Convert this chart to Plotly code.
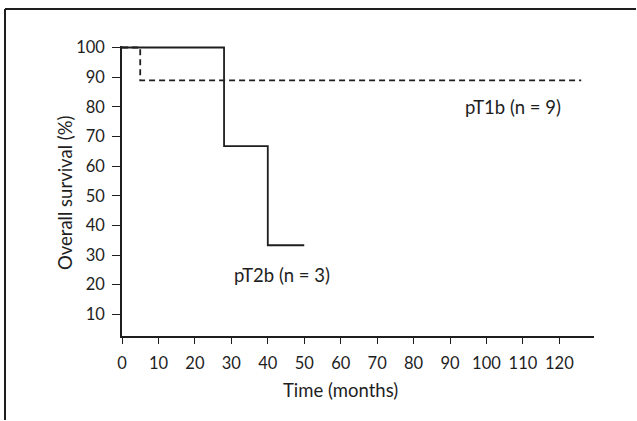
import plotly.graph_objects as go

# Kaplan-Meier step data (time in months, survival %)
pt1b_time = [0, 5, 5, 126]
pt1b_surv = [100, 100, 88.9, 88.9]
pt2b_time = [0, 28, 28, 40, 40, 50]
pt2b_surv = [100, 100, 66.7, 66.7, 33.3, 33.3]

x_ticks = [0, 10, 20, 30, 40, 50, 60, 70, 80, 90, 100, 110, 120]
y_ticks = [10, 20, 30, 40, 50, 60, 70, 80, 90, 100]

W, H = 637, 421
ML, MR, MT, MB = 122, 43, 46, 85
PW, PH = W - ML - MR, H - MT - MB

FONT = "Lato"
FS_TICK = 16.5
FS_TEXT = 18.5
INK = "#1e1e1e"


def px2paper_x(p):
    return (p - ML) / PW


def px2paper_y(p):
    return (H - MB - p) / PH


fig = go.Figure()
fig.add_trace(go.Scatter(x=pt1b_time, y=pt1b_surv, mode="lines",
                         line=dict(color=INK, width=1.8, dash="6px,4px"),
                         showlegend=False, hoverinfo="skip"))
fig.add_trace(go.Scatter(x=pt2b_time, y=pt2b_surv, mode="lines",
                         line=dict(color=INK, width=1.8),
                         showlegend=False, hoverinfo="skip"))

fig.add_annotation(x=107.3, y=79.9, text="pT1b (n = 9)", showarrow=False,
                   xanchor="center", yanchor="middle",
                   font=dict(family=FONT, size=FS_TEXT, color=INK))
fig.add_annotation(x=43.8, y=23.2, text="pT2b (n = 3)", showarrow=False,
                   xanchor="center", yanchor="middle",
                   font=dict(family=FONT, size=FS_TEXT, color=INK))

# axis titles
fig.add_annotation(xref="paper", yref="paper", x=px2paper_x(340), y=px2paper_y(390),
                   text="Time (months)", showarrow=False, xanchor="center", yanchor="middle",
                   font=dict(family=FONT, size=FS_TEXT, color=INK))
fig.add_annotation(xref="paper", yref="paper", x=px2paper_x(65), y=px2paper_y(193),
                   text="Overall survival (%)", showarrow=False, textangle=-90,
                   xanchor="center", yanchor="middle",
                   font=dict(family=FONT, size=FS_TEXT, color=INK))

# frame (top and left edges only)
fig.add_shape(type="line", xref="paper", yref="paper", layer="above",
              x0=px2paper_x(5), x1=px2paper_x(636), y0=px2paper_y(9), y1=px2paper_y(9),
              line=dict(color=INK, width=2))
fig.add_shape(type="line", xref="paper", yref="paper", layer="above",
              x0=px2paper_x(5), x1=px2paper_x(5), y0=px2paper_y(9), y1=px2paper_y(420),
              line=dict(color=INK, width=2))

fig.update_layout(
    width=W, height=H,
    margin=dict(l=ML, r=MR, t=MT, b=MB),
    paper_bgcolor="white", plot_bgcolor="white",
    font=dict(family=FONT, size=FS_TICK, color=INK),
    xaxis=dict(range=[0, 129.5], tickvals=x_ticks, ticks="outside", ticklen=6,
               tickwidth=1.2, tickcolor=INK, showline=True, linecolor=INK,
               linewidth=1.5, showgrid=False, zeroline=False, automargin=False,
               ticklabelstandoff=5),
    yaxis=dict(range=[2.7, 100.5], tickvals=y_ticks, ticks="outside", ticklen=8,
               tickwidth=1.2, tickcolor=INK, showline=True, linecolor=INK,
               linewidth=1.5, showgrid=False, zeroline=False, automargin=False,
               ticklabelstandoff=4),
)

fig.write_html("out.html", config={"displayModeBar": False},
               post_script="document.body.style.margin='0';")
